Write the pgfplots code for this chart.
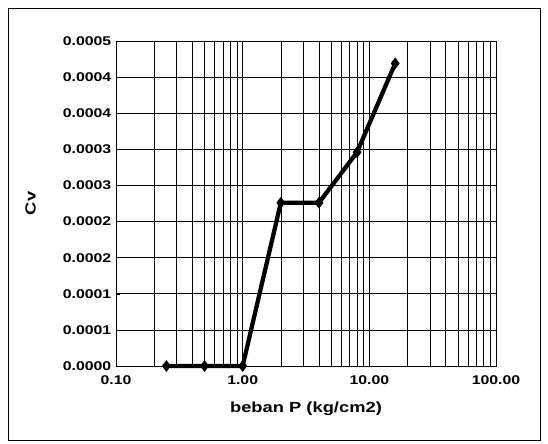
\documentclass[border=0pt]{standalone}
\usepackage{pgfplots}
\pgfplotsset{compat=1.18}
\usepackage{fontspec}
\setmainfont{Liberation Sans}[FakeStretch=1.25]
\begin{document}
\begin{tikzpicture}
\useasboundingbox (-87pt,-57.75pt) rectangle (324pt,274.5pt);
\draw[line width=0.6pt] (-81pt,-55.5pt) rectangle (318pt,268.5pt);
\begin{axis}[
  at={(0,0)}, anchor=south west,
  scale only axis,
  width=285pt, height=243.75pt,
  xmode=log,
  xmin=0.1, xmax=100,
  ymin=0, ymax=0.00045,
  xtick={0.1,1,10,100},
  xticklabels={0.10,1.00,10.00,100.00},
  ytick={0,0.00005,0.0001,0.00015,0.0002,0.00025,0.0003,0.00035,0.0004,0.00045},
  yticklabels={0.0000,0.0001,0.0001,0.0002,0.0002,0.0003,0.0003,0.0004,0.0004,0.0005},
  scaled y ticks=false,
  tick style={black, thin},
  major tick length=3pt,
  minor tick length=0pt,
  xtick pos=bottom, ytick pos=left,
  grid=both,
  major grid style={black, line width=0.5pt},
  minor grid style={black, line width=0.4pt},
  axis line style={black, line width=0.6pt},
  tick label style={font=\fontsize{9.5}{11}\selectfont\bfseries},
  xticklabel style={yshift=-4pt},
  xlabel={beban P (kg/cm2)},
  ylabel={Cv},
  label style={font=\fontsize{11}{13}\selectfont\bfseries},
  xlabel style={at={(axis description cs:0.5,-0.13)}, anchor=center},
  ylabel style={at={(axis description cs:-0.225,0.5)}, anchor=center},
  clip=false,
]
\addplot[black, line width=3.2pt, mark=diamond*, mark size=4pt, mark options={line width=0.5pt}] coordinates {
  (0.25,0)
  (0.5,0)
  (1,0)
  (2,0.000226)
  (4,0.000226)
  (8,0.000296)
  (16,0.000419)
};
\end{axis}
\end{tikzpicture}
\end{document}
